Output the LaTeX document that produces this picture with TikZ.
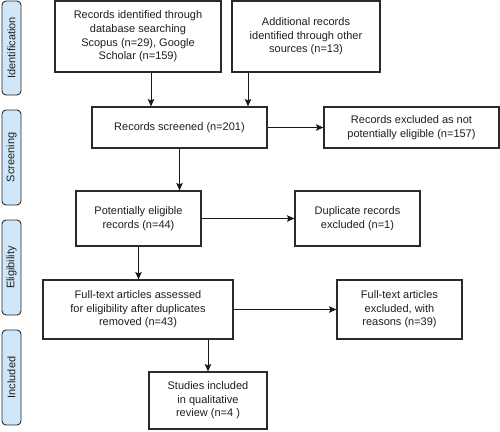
\documentclass[tikz,border=0pt]{standalone}
\usepackage{fontspec}
\setmainfont{Liberation Sans}
\usetikzlibrary{arrows.meta}
\definecolor{sidefill}{HTML}{CFE7F8}
\definecolor{edge}{HTML}{2A2A2A}
\begin{document}
\begin{tikzpicture}[x=1pt,y=-1pt,
  box/.style={draw=edge,line width=1.1pt,fill=white,align=center,inner sep=2pt,
    font=\fontsize{11}{13.6}\selectfont,text=black!88},
  side/.style={draw=edge,line width=0.9pt,fill=sidefill,rounded corners=4pt,
    minimum width=19pt,inner sep=0pt,font=\fontsize{11}{12}\selectfont,text=black!88},
  arr/.style={draw=black!90,line width=1pt,-{Stealth[length=7.5pt,width=6.5pt,inset=1.5pt]}}]
\useasboundingbox (0,0) rectangle (500,431);
% side labels
\node[side,minimum height=94pt] (s1) at (11.5,48) {\rotatebox{90}{Identification}};
\node[side,minimum height=95pt] (s2) at (11.5,157.5) {\rotatebox{90}{Screening}};
\node[side,minimum height=95pt] (s3) at (11.5,267.5) {\rotatebox{90}{Eligibility}};
\node[side,minimum height=95pt] (s4) at (11.5,377.5) {\rotatebox{90}{Included}};
% boxes
\node[box,minimum width=166pt,minimum height=71pt] (A) at (138,36.5)
  {Records identified through\\database searching\\Scopus (n=29), Google\\Scholar (n=159)};
\node[box,minimum width=148pt,minimum height=71pt] (B) at (306,36.5)
  {Additional records\\identified through other\\sources (n=13)};
\node[box,minimum width=175pt,minimum height=41pt] (C) at (179.5,127.5)
  {Records screened (n=201)};
\node[box,minimum width=175pt,minimum height=41pt] (D) at (411.5,127.5)
  {Records excluded as not\\potentially eligible (n=157)};
\node[box,minimum width=125pt,minimum height=55pt] (E) at (138.5,218.5)
  {Potentially eligible\\records (n=44)};
\node[box,minimum width=125pt,minimum height=55pt] (F) at (357.5,218.5)
  {Duplicate records\\excluded (n=1)};
\node[box,minimum width=190pt,minimum height=59pt] (G) at (138,309.5)
  {Full-text articles assessed\\for eligibility after duplicates\\removed (n=43)};
\node[box,minimum width=125pt,minimum height=59pt] (H) at (399.5,309.5)
  {Full-text articles\\excluded, with\\reasons (n=39)};
\node[box,minimum width=118pt,minimum height=57pt] (I) at (208,400.5)
  {Studies included\\in qualitative\\review (n=4 )};
% connectors
\coordinate (xa) at (151,0);
\coordinate (xb) at (248,0);
\draw[arr] (A.south -| xa) -- (C.north -| xa);
\draw[arr] (B.south -| xb) -- (C.north -| xb);
\draw[arr] (C.east) -- (D.west);
\draw[arr] (C.south) -- (C.south |- E.north);
\draw[arr] (E.east) -- (F.west);
\draw[arr] (E.south) -- (E.south |- G.north);
\draw[arr] (G.east) -- (H.west);
\draw[arr] (I.north |- G.south) -- (I.north);
\end{tikzpicture}
\end{document}
